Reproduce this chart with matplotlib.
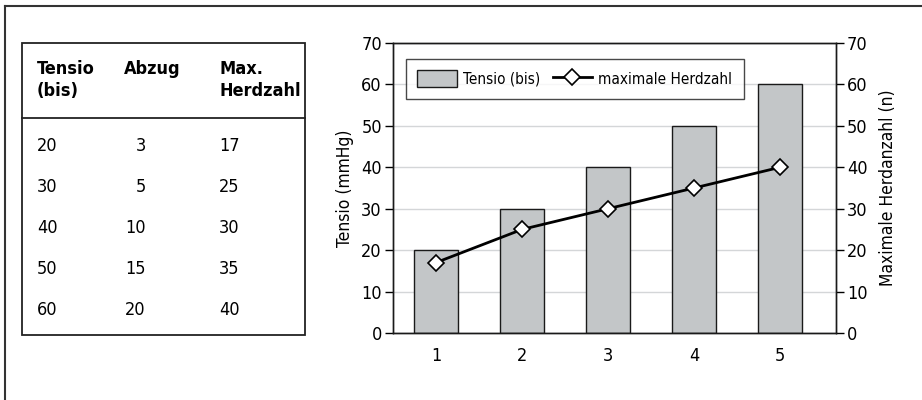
import matplotlib.pyplot as plt
from matplotlib import font_manager
from matplotlib.lines import Line2D
import numpy as np

# pick a narrow font if there is one, the reference uses a condensed face
fonts = font_manager.fontManager.ttflist
names = {f.name for f in fonts}
if "Liberation Sans Narrow" in names:
    plt.rcParams["font.family"] = ["Liberation Sans Narrow", "DejaVu Sans"]
elif any(f.name == "DejaVu Sans" and f.stretch == "condensed" for f in fonts):
    plt.rcParams["font.family"] = ["DejaVu Sans"]
    plt.rcParams["font.stretch"] = "condensed"
else:
    plt.rcParams["font.family"] = ["Lato", "DejaVu Sans"]

# data
categories = [1, 2, 3, 4, 5]
tensio = [20, 30, 40, 50, 60]
herdzahl = [17, 25, 30, 35, 40]

table_header = ["Tensio\n(bis)", "Abzug", "Max.\nHerdzahl"]
table_tensio = ["20", "30", "40", "50", "60"]
table_abzug = ["3", "5", "10", "15", "20"]
table_herd = ["17", "25", "30", "35", "40"]

W, H = 922, 400
fig = plt.figure(figsize=(W / 100, H / 100), dpi=100)


def fx(px):
    return px / W


def fy(py):
    return 1 - py / H


# outer frame (top and left only)
fig.add_artist(Line2D([fx(5), 1], [fy(6), fy(6)], color="#333333", lw=1.5))
fig.add_artist(Line2D([fx(5), fx(5)], [fy(6), 0], color="#333333", lw=1.5))

# table box
tl, tr, tt, tb = 22, 305, 43, 335
fig.add_artist(plt.Rectangle((fx(tl), fy(tb)), fx(tr) - fx(tl), fy(tt) - fy(tb),
                             fill=False, edgecolor="#222222", lw=1.3))
fig.add_artist(Line2D([fx(tl), fx(tr)], [fy(118), fy(118)], color="#222222", lw=1.3))

fs = 13
fig.text(fx(37), fy(80), table_header[0], fontsize=fs, fontweight="bold",
         va="center", ha="left", linespacing=1.3)
fig.text(fx(124), fy(69), table_header[1], fontsize=fs, fontweight="bold",
         va="center", ha="left")
fig.text(fx(219), fy(80), table_header[2], fontsize=fs, fontweight="bold",
         va="center", ha="left", linespacing=1.3)

row_y = [146, 187, 228, 269, 310]
for i, y in enumerate(row_y):
    fig.text(fx(37), fy(y), table_tensio[i], fontsize=fs, va="center", ha="left")
    fig.text(fx(146), fy(y), table_abzug[i], fontsize=fs, va="center", ha="right")
    fig.text(fx(219), fy(y), table_herd[i], fontsize=fs, va="center", ha="left")

# chart
ax = fig.add_axes([fx(393), fy(333), fx(836) - fx(393), fy(43) - fy(333)])
ax.set_axisbelow(True)
ax.bar(categories, tensio, width=0.51, color="#c3c6c8", edgecolor="#1a1a1a",
       linewidth=1, label="Tensio (bis)", zorder=2)
ax.set_ylim(0, 70)
ax.set_xlim(0.5, 5.65)
ax.set_yticks(np.arange(0, 71, 10))
ax.set_xticks(categories)
ax.yaxis.grid(True, color="#d4d6d8", lw=1)
ax.tick_params(axis="x", length=0, labelsize=13, pad=10)
ax.tick_params(axis="y", length=6, width=1, labelsize=13, pad=2)
ax.set_ylabel("Tensio (mmHg)", fontsize=12.5, labelpad=5)
for s in ax.spines.values():
    s.set_linewidth(1)
    s.set_color("#1a1a1a")

ax2 = ax.twinx()
ax2.plot(categories, herdzahl, color="black", lw=2, marker="D", markersize=8,
         markerfacecolor="white", markeredgecolor="black", markeredgewidth=1.2,
         label="maximale Herdzahl", zorder=3)
ax2.set_ylim(0, 70)
ax2.set_yticks(np.arange(0, 71, 10))
ax2.tick_params(axis="y", length=6, width=1, labelsize=13, pad=2)
ax2.set_ylabel("Maximale Herdanzahl (n)", fontsize=12.5, labelpad=8)
for s in ax2.spines.values():
    s.set_linewidth(1)
    s.set_color("#1a1a1a")

h1, l1 = ax.get_legend_handles_labels()
h2, l2 = ax2.get_legend_handles_labels()
leg = ax2.legend(h1 + h2, l1 + l2, loc="upper left", bbox_to_anchor=(0.029, 0.945),
                 borderaxespad=0, ncol=2, fontsize=11, frameon=True, fancybox=False,
                 edgecolor="#1a1a1a", handlelength=2.6, handleheight=1.3,
                 columnspacing=0.8, handletextpad=0.4, borderpad=0.75)
leg.get_frame().set_linewidth(1)

fig.savefig("out.png", dpi=100)
